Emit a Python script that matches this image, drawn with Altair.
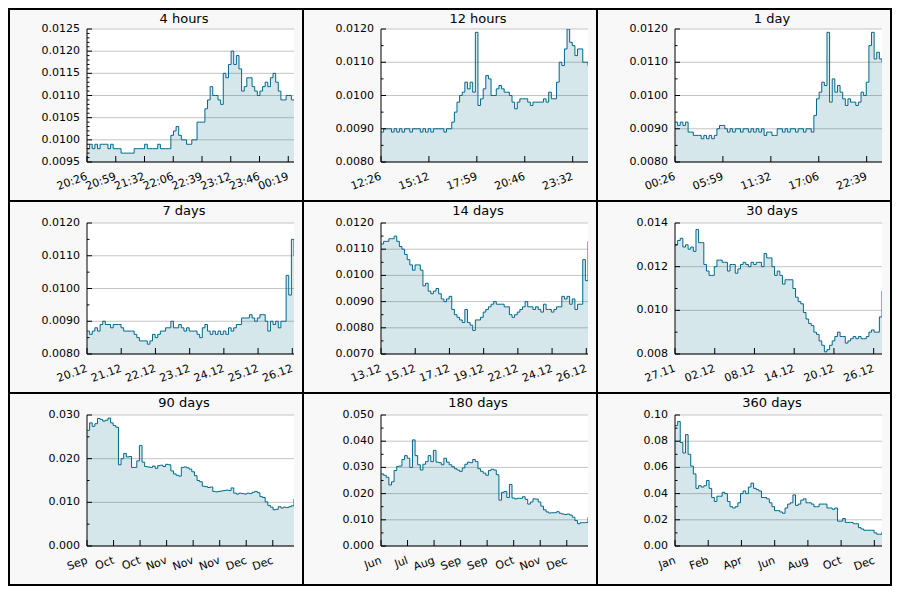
import altair as alt
import pandas as pd

TITLES = ["4 hours", "12 hours", "1 day", "7 days", "14 days", "30 days",
          "90 days", "180 days", "360 days"]

V_4H = [0.0098, 0.0099, 0.0098, 0.0099, 0.0098, 0.0099, 0.0099, 0.0099, 0.0098, 0.0099,
        0.0098, 0.0098, 0.0098, 0.0097, 0.0097, 0.0097, 0.0097, 0.0097, 0.0098, 0.0098,
        0.0098, 0.0098, 0.0099, 0.0098, 0.0098, 0.0098, 0.0098, 0.0099, 0.0098, 0.0098,
        0.0098, 0.0098, 0.0101, 0.0102, 0.0103, 0.0101, 0.0100, 0.0100, 0.0099, 0.0099,
        0.0100, 0.0100, 0.0104, 0.0104, 0.0104, 0.0107, 0.0109, 0.0112, 0.0110, 0.0110,
        0.0109, 0.0108, 0.0115, 0.0114, 0.0117, 0.0120, 0.0117, 0.0119, 0.0116, 0.0111,
        0.0112, 0.0114, 0.0114, 0.0112, 0.0111, 0.0110, 0.0111, 0.0112, 0.0113, 0.0112,
        0.0114, 0.0115, 0.0113, 0.0111, 0.0109, 0.0109, 0.0110, 0.0110, 0.0109, 0.0109]

V_12H = [0.0089, 0.0090, 0.0090, 0.0090, 0.0089, 0.0090, 0.0089, 0.0090, 0.0089, 0.0090,
         0.0090, 0.0089, 0.0090, 0.0090, 0.0090, 0.0089, 0.0090, 0.0089, 0.0090, 0.0089,
         0.0090, 0.0090, 0.0090, 0.0090, 0.0089, 0.0090, 0.0090, 0.0092, 0.0095, 0.0098,
         0.0100, 0.0101, 0.0104, 0.0102, 0.0104, 0.0101, 0.0119, 0.0097, 0.0099, 0.0102,
         0.0106, 0.0105, 0.0100, 0.0100, 0.0102, 0.0103, 0.0102, 0.0101, 0.0101, 0.0100,
         0.0098, 0.0096, 0.0098, 0.0099, 0.0099, 0.0099, 0.0098, 0.0097, 0.0098, 0.0098,
         0.0098, 0.0098, 0.0099, 0.0098, 0.0101, 0.0099, 0.0099, 0.0104, 0.0110, 0.0109,
         0.0114, 0.0120, 0.0116, 0.0115, 0.0112, 0.0114, 0.0114, 0.0110, 0.0110, 0.0109]

V_1D = [0.0092, 0.0091, 0.0092, 0.0091, 0.0092, 0.0089, 0.0089, 0.0088, 0.0088, 0.0088,
        0.0087, 0.0088, 0.0087, 0.0088, 0.0087, 0.0088, 0.0090, 0.0091, 0.0091, 0.0090,
        0.0089, 0.0090, 0.0089, 0.0090, 0.0090, 0.0089, 0.0090, 0.0090, 0.0089, 0.0090,
        0.0089, 0.0090, 0.0089, 0.0090, 0.0088, 0.0089, 0.0089, 0.0088, 0.0088, 0.0090,
        0.0090, 0.0089, 0.0090, 0.0089, 0.0090, 0.0090, 0.0089, 0.0090, 0.0090, 0.0089,
        0.0090, 0.0090, 0.0089, 0.0094, 0.0099, 0.0101, 0.0104, 0.0103, 0.0119, 0.0098,
        0.0105, 0.0101, 0.0103, 0.0101, 0.0099, 0.0097, 0.0099, 0.0098, 0.0098, 0.0097,
        0.0098, 0.0101, 0.0100, 0.0104, 0.0115, 0.0119, 0.0111, 0.0113, 0.0111, 0.0110]

V_7D = [0.0087, 0.0086, 0.0087, 0.0088, 0.0087, 0.0089, 0.0090, 0.0089, 0.0089, 0.0088,
        0.0089, 0.0089, 0.0089, 0.0088, 0.0087, 0.0087, 0.0087, 0.0087, 0.0086, 0.0085,
        0.0084, 0.0084, 0.0084, 0.0083, 0.0084, 0.0086, 0.0085, 0.0086, 0.0087, 0.0087,
        0.0088, 0.0088, 0.0090, 0.0088, 0.0088, 0.0089, 0.0088, 0.0087, 0.0088, 0.0087,
        0.0087, 0.0087, 0.0086, 0.0085, 0.0088, 0.0089, 0.0087, 0.0086, 0.0087, 0.0086,
        0.0087, 0.0086, 0.0087, 0.0086, 0.0088, 0.0087, 0.0088, 0.0089, 0.0089, 0.0091,
        0.0091, 0.0091, 0.0092, 0.0091, 0.0090, 0.0091, 0.0092, 0.0092, 0.0090, 0.0087,
        0.0090, 0.0089, 0.0090, 0.0088, 0.0090, 0.0090, 0.0104, 0.0098, 0.0115, 0.0110]

V_14D = [0.0112, 0.0113, 0.0113, 0.0114, 0.0114, 0.0115, 0.0113, 0.0111, 0.0110, 0.0108,
         0.0106, 0.0104, 0.0102, 0.0104, 0.0104, 0.0102, 0.0096, 0.0097, 0.0094, 0.0093,
         0.0094, 0.0095, 0.0093, 0.0091, 0.0090, 0.0091, 0.0092, 0.0087, 0.0085, 0.0084,
         0.0083, 0.0082, 0.0087, 0.0082, 0.0081, 0.0079, 0.0083, 0.0083, 0.0084, 0.0086,
         0.0087, 0.0088, 0.0089, 0.0090, 0.0089, 0.0089, 0.0089, 0.0088, 0.0088, 0.0085,
         0.0084, 0.0085, 0.0086, 0.0087, 0.0088, 0.0090, 0.0088, 0.0088, 0.0087, 0.0088,
         0.0087, 0.0086, 0.0089, 0.0087, 0.0087, 0.0086, 0.0087, 0.0088, 0.0088, 0.0092,
         0.0091, 0.0092, 0.0089, 0.0091, 0.0087, 0.0089, 0.0089, 0.0106, 0.0098, 0.0113]

V_30D = [0.0130, 0.0132, 0.0133, 0.0129, 0.0130, 0.0128, 0.0129, 0.0127, 0.0137, 0.0131,
         0.0131, 0.0121, 0.0118, 0.0116, 0.0116, 0.0120, 0.0123, 0.0123, 0.0122, 0.0122,
         0.0118, 0.0121, 0.0121, 0.0117, 0.0119, 0.0121, 0.0122, 0.0121, 0.0120, 0.0122,
         0.0121, 0.0122, 0.0122, 0.0120, 0.0126, 0.0124, 0.0124, 0.0120, 0.0116, 0.0118,
         0.0116, 0.0112, 0.0114, 0.0114, 0.0114, 0.0110, 0.0106, 0.0104, 0.0103, 0.0099,
         0.0096, 0.0094, 0.0093, 0.0090, 0.0089, 0.0086, 0.0084, 0.0081, 0.0082, 0.0084,
         0.0086, 0.0088, 0.0090, 0.0088, 0.0088, 0.0085, 0.0086, 0.0087, 0.0088, 0.0087,
         0.0088, 0.0087, 0.0087, 0.0088, 0.0090, 0.0091, 0.0090, 0.0090, 0.0097, 0.0109]

V_90D = [0.0265, 0.0282, 0.0274, 0.0280, 0.0292, 0.0290, 0.0286, 0.0288, 0.0293, 0.0282,
         0.0276, 0.0272, 0.0186, 0.0200, 0.0212, 0.0204, 0.0205, 0.0180, 0.0180, 0.0195,
         0.0230, 0.0192, 0.0182, 0.0181, 0.0180, 0.0183, 0.0178, 0.0184, 0.0185, 0.0182,
         0.0187, 0.0186, 0.0172, 0.0165, 0.0162, 0.0160, 0.0180, 0.0181, 0.0179, 0.0176,
         0.0170, 0.0161, 0.0150, 0.0147, 0.0137, 0.0136, 0.0134, 0.0135, 0.0125, 0.0124,
         0.0125, 0.0126, 0.0127, 0.0128, 0.0127, 0.0133, 0.0121, 0.0119, 0.0121, 0.0120,
         0.0119, 0.0121, 0.0120, 0.0123, 0.0125, 0.0122, 0.0113, 0.0111, 0.0101, 0.0093,
         0.0089, 0.0083, 0.0084, 0.0090, 0.0087, 0.0089, 0.0088, 0.0090, 0.0092, 0.0108]

V_180D = [0.0275, 0.0270, 0.0262, 0.0233, 0.0245, 0.0288, 0.0304, 0.0305, 0.0330, 0.0345,
          0.0335, 0.0300, 0.0405, 0.0345, 0.0310, 0.0290, 0.0312, 0.0322, 0.0345, 0.0322,
          0.0365, 0.0320, 0.0318, 0.0310, 0.0335, 0.0320, 0.0310, 0.0303, 0.0295, 0.0290,
          0.0285, 0.0298, 0.0312, 0.0320, 0.0318, 0.0330, 0.0322, 0.0295, 0.0285, 0.0278,
          0.0270, 0.0288, 0.0293, 0.0290, 0.0272, 0.0175, 0.0205, 0.0208, 0.0185, 0.0235,
          0.0183, 0.0180, 0.0182, 0.0182, 0.0188, 0.0178, 0.0160, 0.0168, 0.0180, 0.0179,
          0.0168, 0.0152, 0.0138, 0.0130, 0.0126, 0.0127, 0.0127, 0.0131, 0.0125, 0.0122,
          0.0120, 0.0122, 0.0118, 0.0110, 0.0097, 0.0085, 0.0089, 0.0089, 0.0090, 0.0110]

V_360D = [0.092, 0.095, 0.079, 0.071, 0.085, 0.070, 0.061, 0.055, 0.044, 0.046,
          0.045, 0.046, 0.050, 0.044, 0.037, 0.034, 0.038, 0.038, 0.041, 0.040,
          0.034, 0.030, 0.029, 0.030, 0.033, 0.040, 0.042, 0.040, 0.045, 0.048,
          0.044, 0.043, 0.042, 0.037, 0.037, 0.036, 0.033, 0.030, 0.027, 0.027,
          0.026, 0.025, 0.029, 0.032, 0.033, 0.039, 0.031, 0.032, 0.035, 0.036,
          0.033, 0.033, 0.032, 0.030, 0.030, 0.032, 0.032, 0.032, 0.029, 0.029,
          0.028, 0.029, 0.019, 0.019, 0.021, 0.018, 0.018, 0.018, 0.017, 0.017,
          0.014, 0.013, 0.012, 0.012, 0.012, 0.012, 0.010, 0.009, 0.009, 0.011]

VALUES = [V_4H, V_12H, V_1D, V_7D, V_14D, V_30D, V_90D, V_180D, V_360D]

XL_4H = ["20:26", "20:59", "21:32", "22:06", "22:39", "23:12", "23:46", "00:19"]
XL_12H = ["12:26", "15:12", "17:59", "20:46", "23:32"]
XL_1D = ["00:26", "05:59", "11:32", "17:06", "22:39"]
XL_7D = ["20.12", "21.12", "22.12", "23.12", "24.12", "25.12", "26.12"]
XL_14D = ["13.12", "15.12", "17.12", "19.12", "22.12", "24.12", "26.12"]
XL_30D = ["27.11", "02.12", "08.12", "14.12", "20.12", "26.12"]
XL_90D = ["Sep", "Oct", "Oct", "Nov", "Nov", "Nov", "Dec", "Dec"]
XL_180D = ["Jun", "Jul", "Aug", "Sep", "Sep", "Oct", "Nov", "Dec"]
XL_360D = ["Jan", "Feb", "Apr", "Jun", "Aug", "Oct", "Dec"]
X_LABELS = [XL_4H, XL_12H, XL_1D, XL_7D, XL_14D, XL_30D, XL_90D, XL_180D, XL_360D]

# x extent in units of tick intervals
X_SPAN = [7.2, 4.32, 4.32, 6.05, 6.05, 5.21, 7.8, 7.8, 6.23]

Y_DOMAIN = [(0.0095, 0.0125), (0.008, 0.012), (0.008, 0.012), (0.008, 0.012),
            (0.007, 0.012), (0.008, 0.014), (0.0, 0.03), (0.0, 0.05), (0.0, 0.10)]
Y_STEP = [0.0005, 0.001, 0.001, 0.001, 0.001, 0.002, 0.01, 0.01, 0.02]
Y_MINOR = [0.0001, 0.0005, 0.0005, 0.0005, 0.0005, 0.001, 0.005, 0.005, 0.01]
Y_DECIMALS = [4, 4, 4, 4, 4, 3, 3, 3, 2]

LINE = "#00688b"
GRID = "#c4c4c4"
FONT = "DejaVu Sans"

W = 207
L, R, B = 78, 9, 39


def ticks(lo, hi, step):
    n = int(round((hi - lo) / step))
    return [round(lo + i * step, 6) for i in range(n + 1)]


def panel(idx):
    row = idx // 3
    H = 133 if row == 0 else 131
    T = 20 if row == 0 else 22
    vals = VALUES[idx]
    n = len(vals)
    span = X_SPAN[idx]
    df = pd.DataFrame({"x": [i * span / (n - 1) for i in range(n)], "v": vals})
    lo, hi = Y_DOMAIN[idx]
    major = ticks(lo, hi, Y_STEP[idx])
    minor = [t for t in ticks(lo, hi, Y_MINOR[idx])
             if all(abs(t - m) > 1e-9 for m in major)]
    labels = X_LABELS[idx]
    xs = alt.Scale(domain=[0, span], nice=False, zero=False)
    ys = alt.Scale(domain=[lo, hi], nice=False, zero=False)

    ydf = pd.DataFrame({"t": major,
                        "lab": ["%.*f" % (Y_DECIMALS[idx], t) for t in major]})
    xdf = pd.DataFrame({"t": list(range(len(labels))), "lab": labels})
    one = alt.Data(values=[{"a": 1}])

    grid = alt.Chart(ydf).mark_rule(color=GRID, strokeWidth=1).encode(
        y=alt.Y("t:Q", scale=ys, axis=None), x=alt.value(0), x2=alt.value(W))
    area = alt.Chart(df).mark_area(
        interpolate="step-after", fill=LINE, fillOpacity=0.16, clip=True
    ).encode(
        x=alt.X("x:Q", scale=xs, axis=None),
        y=alt.Y("v:Q", scale=ys, axis=None),
        y2=alt.datum(lo),
    )
    line = alt.Chart(df).mark_line(
        interpolate="step-after", color=LINE, strokeWidth=1, clip=True
    ).encode(
        x=alt.X("x:Q", scale=xs, axis=None),
        y=alt.Y("v:Q", scale=ys, axis=None),
    )
    ydom = alt.Chart(one).mark_rule(color="black", strokeWidth=1).encode(
        x=alt.value(0), y=alt.value(0), y2=alt.value(H))
    xdom = alt.Chart(one).mark_rule(color="black", strokeWidth=1).encode(
        x=alt.value(0), x2=alt.value(W), y=alt.value(H))
    ymaj = alt.Chart(ydf).mark_rule(color="black", strokeWidth=1).encode(
        y=alt.Y("t:Q", scale=ys, axis=None), x=alt.value(0), x2=alt.value(5))
    ymin = alt.Chart(pd.DataFrame({"t": minor})).mark_rule(
        color="black", strokeWidth=1
    ).encode(y=alt.Y("t:Q", scale=ys, axis=None), x=alt.value(0), x2=alt.value(2.5))
    xt = alt.Chart(xdf).mark_rule(color="black", strokeWidth=1).encode(
        x=alt.X("t:Q", scale=xs, axis=None), y=alt.value(H), y2=alt.value(H - 6))
    ylab = alt.Chart(ydf).mark_text(
        font=FONT, fontSize=11, align="right", baseline="middle", color="black"
    ).encode(y=alt.Y("t:Q", scale=ys, axis=None), x=alt.value(-7), text="lab:N")
    xlab = alt.Chart(xdf).mark_text(
        font=FONT, fontSize=11, align="right", baseline="top", angle=340,
        dx=-2, color="black"
    ).encode(x=alt.X("t:Q", scale=xs, axis=None), y=alt.value(H + 8), text="lab:N")
    border = alt.Chart(one).mark_rect(
        fillOpacity=0, stroke="black", strokeWidth=2
    ).encode(x=alt.value(-L), x2=alt.value(W + R), y=alt.value(-T), y2=alt.value(H + B))
    title = alt.Chart(one).mark_text(
        text=TITLES[idx], font=FONT, fontSize=13, align="center",
        baseline="alphabetic", color="black"
    ).encode(x=alt.value(97), y=alt.value(14.4 - T))
    return alt.layer(grid, area, line, ydom, xdom, ymaj, ymin, xt, ylab, xlab,
                     border, title).properties(width=W, height=H)


panels = [panel(i) for i in range(9)]

chart = alt.ConcatChart(
    concat=panels, columns=3, spacing={"row": 61, "column": 87},
    bounds="flush", padding=0, background="#f8f8f8",
).configure_view(
    fill="white", strokeWidth=0
)

chart.save("out.html", embed_options={"renderer": "svg", "actions": False})
